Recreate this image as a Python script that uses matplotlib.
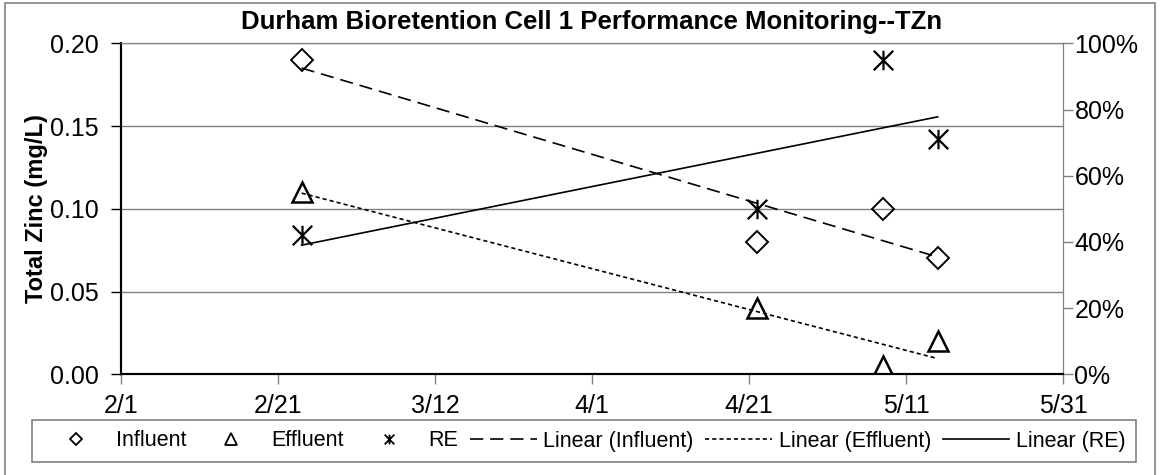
import matplotlib
matplotlib.use('Agg')
import matplotlib.pyplot as plt
import matplotlib.dates as mdates
from matplotlib.path import Path
from matplotlib.patches import Rectangle
from matplotlib.ticker import PercentFormatter, FormatStrFormatter
from matplotlib.lines import Line2D
import numpy as np

# D A T A  ---------------------------------------------------------
sample_dates = ['2008-02-24', '2008-04-22', '2008-05-08', '2008-05-15']
influent = [0.19, 0.08, 0.10, 0.07]      # mg/L
effluent = [0.11, 0.04, 0.005, 0.02]     # mg/L
removal = [0.42, 0.50, 0.95, 0.71]       # removal efficiency (fraction)

tick_dates = ['2008-02-01', '2008-02-21', '2008-03-12', '2008-04-01',
              '2008-04-21', '2008-05-11', '2008-05-31']
tick_labels = ['2/1', '2/21', '3/12', '4/1', '4/21', '5/11', '5/31']
# ------------------------------------------------------------------

plt.rcParams['font.family'] = ['Liberation Sans', 'DejaVu Sans']
plt.rcParams['lines.scale_dashes'] = False

W, H = 1160, 475
fig = plt.figure(figsize=(W / 100, H / 100), dpi=100)

# chart area border
fig.patches.append(Rectangle((5 / W, -0.05), 1150 / W, 1.05 - 3 / H, transform=fig.transFigure,
                             fill=False, edgecolor='#808080', lw=1.2))

ax = fig.add_axes([121 / W, 1 - 374.3 / H, (1063.3 - 121) / W, (374.3 - 43.3) / H])
ax2 = ax.twinx()

x = mdates.datestr2num(sample_dates)
xt = mdates.datestr2num(tick_dates)

# star marker: X with a vertical bar
star = Path([(-1, -1), (1, 1), (-1, 1), (1, -1), (0, -1), (0, 1)],
            [Path.MOVETO, Path.LINETO, Path.MOVETO, Path.LINETO, Path.MOVETO, Path.LINETO])

ax.plot(x, influent, ls='none', marker='D', ms=11.5, mfc='none', mec='black', mew=1.4, zorder=5)
ax.plot(x, effluent, ls='none', marker='^', ms=15, mfc='none', mec='black', mew=1.8, zorder=5)
ax2.plot(x, removal, ls='none', marker=star, ms=14, mec='black', mew=1.6, zorder=5)

# linear trendlines
dash_long = (0, (9.5, 5))
dash_short = (0, (3, 2.2))
xs = np.array([x.min(), x.max()])
for vals, style, axis in [(influent, dash_long, ax), (effluent, dash_short, ax), (removal, '-', ax2)]:
    k, b = np.polyfit(x, vals, 1)
    axis.plot(xs, k * xs + b, color='black', lw=1.2, ls=style)

ax.set_xlim(xt[0], xt[-1])
ax.set_ylim(0, 0.2)
ax2.set_ylim(0, 1)
ax.set_xticks(xt)
ax.set_xticklabels(tick_labels)
ax.set_yticks(np.arange(0, 0.201, 0.05))
ax.yaxis.set_major_formatter(FormatStrFormatter('%.2f'))
ax2.set_yticks(np.arange(0, 1.01, 0.2))
ax2.yaxis.set_major_formatter(PercentFormatter(1.0, decimals=0))

ax.grid(axis='y', color='#808080', lw=1)
ax.set_axisbelow(True)

ax.tick_params(axis='y', labelsize=18, length=7, width=1, color='black', pad=9)
ax.tick_params(axis='x', labelsize=18, length=7, width=1, color='#808080', pad=7)
ax2.tick_params(axis='y', labelsize=18, length=7, width=1, color='#808080', pad=1)

for a in (ax, ax2):
    a.spines['top'].set_color('#808080')
    a.spines['right'].set_color('#808080')
    a.spines['left'].set_color('black')
    a.spines['bottom'].set_color('black')
    a.spines['left'].set_linewidth(1.5)
    a.spines['bottom'].set_linewidth(1.5)

ax.set_ylabel('Total Zinc (mg/L)', fontsize=17, fontweight='bold')
ax.yaxis.set_label_coords(-0.0775, 0.5)
fig.text(592 / W, 1 - 22 / H, 'Durham Bioretention Cell 1 Performance Monitoring--TZn',
         ha='center', va='center', fontsize=18.5, fontweight='bold')

handles = [
    Line2D([], [], ls='none', marker='D', ms=6, mfc='none', mec='black', mew=1.3),
    Line2D([], [], ls='none', marker='^', ms=8, mfc='none', mec='black', mew=1.3),
    Line2D([], [], ls='none', marker=star, ms=7, mec='black', mew=1.3),
    Line2D([], [], color='black', lw=1.2, ls=dash_long),
    Line2D([], [], color='black', lw=1.2, ls=dash_short),
    Line2D([], [], color='black', lw=1.2, ls='-'),
]
labels = ['Influent', 'Effluent', 'RE', 'Linear (Influent)', 'Linear (Effluent)', 'Linear (RE)']
leg = fig.legend(handles, labels, ncol=6, loc='center', mode='expand',
                 bbox_to_anchor=(21 / W, 1 - 462 / H, 1126 / W, 42 / H),
                 fontsize=15.5, handlelength=3.1, handletextpad=0.3, columnspacing=0.7,
                 borderpad=0.5, fancybox=False, framealpha=1, edgecolor='#808080')
leg.get_frame().set_linewidth(1.2)

fig.savefig('out.png', dpi=100)
